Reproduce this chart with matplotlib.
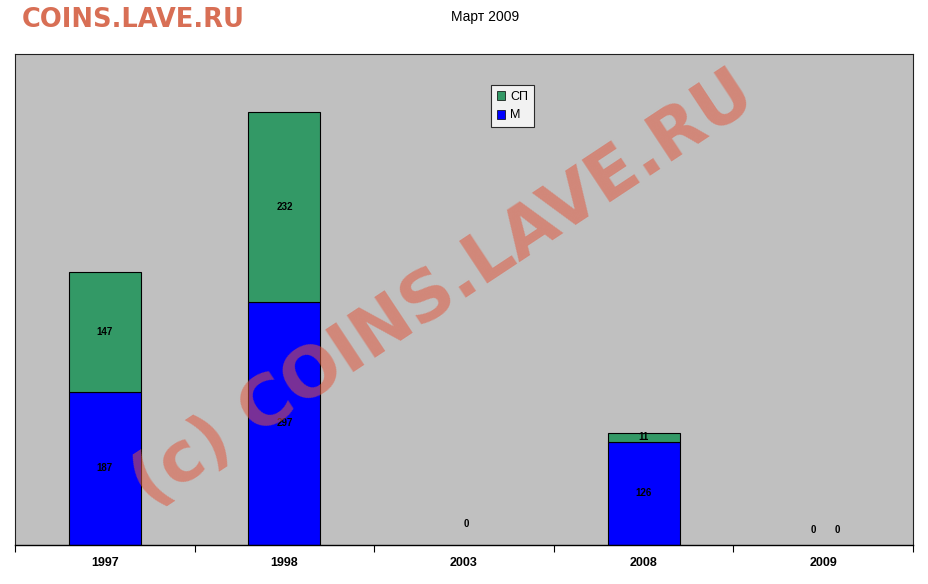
import matplotlib
matplotlib.use("Agg")
import matplotlib.pyplot as plt
import numpy as np

categories = ["1997", "1998", "2003", "2008", "2009"]
m_values = [187, 297, 0, 126, 0]
sp_values = [147, 232, 0, 11, 0]

W, H = 929, 584
fig = plt.figure(figsize=(W / 100, H / 100), dpi=100)
fig.patch.set_facecolor("white")

ax = fig.add_axes([15 / W, 1 - 545 / H, (913 - 15) / W, (545 - 54) / H])
ax.set_facecolor("#C0C0C0")

x = np.arange(len(categories))
m = np.array(m_values)
sp = np.array(sp_values)
bw = 0.4
lw_m = [0.8 if v > 0 else 0 for v in m]
lw_sp = [0.8 if v > 0 else 0 for v in sp]
ax.bar(x, m, width=bw, color="#0000FF", edgecolor="black", linewidth=lw_m, zorder=2)
ax.bar(x, sp, width=bw, bottom=m, color="#339966", edgecolor="black", linewidth=lw_sp, zorder=2)

ax.set_xlim(-0.5, len(categories) - 0.5)
ax.set_ylim(0, 600)

lbl = dict(ha="center", va="center", fontsize=7, fontweight="bold",
           family="Liberation Sans", color="black", zorder=5)
for i in range(len(categories)):
    if m[i] == 0 and sp[i] == 0:
        if i == len(categories) - 1:
            ax.annotate("0", (x[i], 0), xytext=(-7, 11), textcoords="offset points", **lbl)
            ax.annotate("0", (x[i], 0), xytext=(10, 11), textcoords="offset points", **lbl)
        else:
            ax.annotate("0", (x[i], 0), xytext=(2, 15), textcoords="offset points", **lbl)
        continue
    ax.text(x[i], m[i] / 2, str(m[i]), **lbl)
    ax.text(x[i], m[i] + sp[i] / 2, str(sp[i]), **lbl)

ax.set_yticks([])
ax.set_xticks(x)
ax.set_xticklabels(categories, fontsize=9, fontweight="bold", family="Liberation Sans")
ax.tick_params(axis="x", length=0, pad=9)
ax.set_xticks(np.arange(len(categories) + 1) - 0.5, minor=True)
ax.tick_params(axis="x", which="minor", length=5, width=0.8, direction="out")
for s in ["left", "top", "right"]:
    ax.spines[s].set_linewidth(0.8)
    ax.spines[s].set_color("#202020")
ax.spines["bottom"].set_linewidth(1.0)
ax.spines["bottom"].set_color("black")

leg = ax.legend(handles=[plt.Rectangle((0, 0), 1, 1, fc="#339966", ec="black", lw=0.5),
                         plt.Rectangle((0, 0), 1, 1, fc="#0000FF", ec="black", lw=0.5)],
                labels=["СП", "М"], loc="upper left",
                bbox_to_anchor=((491 - 15) / (913 - 15), 1 - (85 - 54) / (545 - 54)),
                prop={"family": "Liberation Sans", "size": 9},
                frameon=True, fancybox=False, edgecolor="black", facecolor="white",
                handlelength=0.7, handleheight=0.7, handletextpad=0.4,
                borderpad=0.45, labelspacing=0.55, borderaxespad=0)
leg.get_frame().set_linewidth(0.8)
leg.set_zorder(6)

fig.text(22 / W, 1 - 20 / H, "COINS.LAVE.RU", color="#D86F55", fontsize=18.5,
         fontweight="bold", family="DejaVu Sans", ha="left", va="center")
fig.text(485 / W, 1 - 17 / H, "Март 2009", color="black", fontsize=10,
         family="Liberation Sans", ha="center", va="center")

fig.text(443 / W, 1 - 290 / H, "(c) COINS.LAVE.RU", color="#E0593F", alpha=0.55,
         fontsize=50, fontweight="bold", family="DejaVu Sans", rotation=33.5,
         ha="center", va="center", zorder=10)

fig.savefig("out.png", dpi=100)
